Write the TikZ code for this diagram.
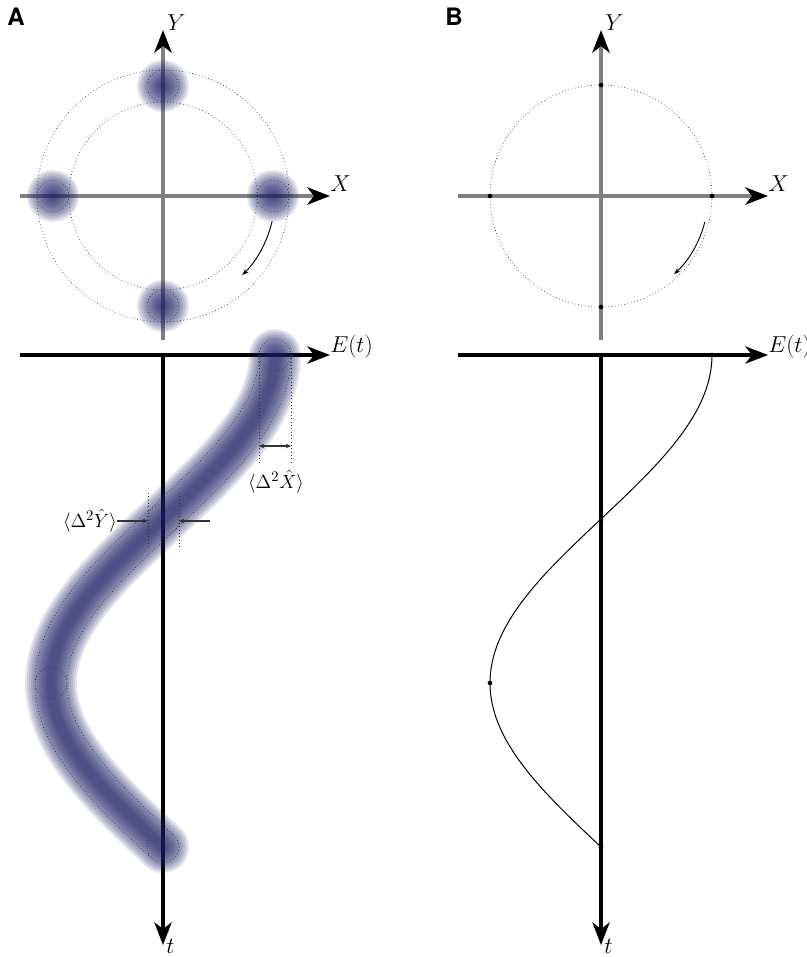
\documentclass[tikz,border=0pt]{standalone}
\usepackage{amsmath}
\usepackage{fontspec}
\newfontfamily\panelfont{TeX Gyre Heros}
\usetikzlibrary{arrows.meta}
\definecolor{blobblue}{RGB}{30,34,102}
\definecolor{axisgray}{RGB}{128,128,128}
\tikzset{
  grayaxis/.style={draw=axisgray, line width=3pt, -{Stealth[length=17pt,width=13pt,inset=5pt,black]}},
  blackaxis/.style={line width=2.3pt, -{Stealth[length=17pt,width=13pt,inset=5pt]}},
  ring/.style={dotted, line width=0.5pt, black!80},
  axlabel/.style={font=\fontsize{17}{20}\selectfont, inner sep=0pt, anchor=base west},
  msrlabel/.style={font=\fontsize{15}{18}\selectfont, inner sep=0pt},
  panel/.style={font=\panelfont\bfseries\fontsize{18}{21}\selectfont, inner sep=0pt},
  turn/.style={line width=0.7pt, -{Stealth[length=5pt,width=3.5pt]}},
  msr/.style={line width=0.8pt, black!80},
  dot/.style={circle, fill=black, inner sep=0pt, minimum size=3.5pt}
}
% soft gaussian-like spot
\newcommand{\fuzz}[1]{\foreach \r in {26,24,...,4} \fill[blobblue, opacity=0.12] (#1) circle[radius=\r];}
\begin{document}
\begin{tikzpicture}[x=0.75pt,y=-0.75pt]
\useasboundingbox (0,0) rectangle (807,957);
\node[panel] (pA) at (16,17) {A};
\node[panel] (pB) at (454,17) {B};

% axes, the same in both panels
\foreach \p/\dx in {A/0,B/438}{
\begin{scope}[xshift=\dx*0.75pt]
\coordinate (\p o) at (163,196);
\coordinate (\p xl) at (20,196); \coordinate (\p xr) at (330,196);
\coordinate (\p yb) at (163,340); \coordinate (\p yt) at (163,30);
\coordinate (\p el) at (20,355); \coordinate (\p er) at (330,355);
\coordinate (\p tt) at (163,355); \coordinate (\p tb) at (163,945);
\draw[grayaxis] (\p xl) -- (\p xr);
\draw[grayaxis] (\p yb) -- (\p yt);
\draw[blackaxis] (\p el) -- (\p er);
\draw[blackaxis] (\p tt) -- (\p tb);
\node[axlabel] (\p X) at (330,191) {$X$};
\node[axlabel] (\p Y) at (167,30) {$Y$};
\node[axlabel] (\p E) at (330,352) {$E(t)$};
\node[axlabel] (\p t) at (166,953) {$t$};
\end{scope}
}

% A: phase space
\draw[ring] (Ao) circle[radius=126];
\draw[ring] (Ao) circle[radius=94];
\foreach \n/\x/\y in {top/163/86,lft/53/196,rgt/273/196,bot/163/306}{
  \coordinate (s\n) at (\x,\y);
  \fuzz{s\n}
  \draw[ring] (s\n) circle[radius=16];
}
\draw[turn] ([shift={(13:112)}]Ao) arc[start angle=13, end angle=45, radius=112];

% A: field in time
\foreach \w in {52,48,...,8}
  \draw[blobblue, opacity=0.12, line width=\w*0.75pt, line cap=round]
    plot[domain=0:270, samples=91, variable=\a] ({163+112*cos(\a)},{355+1.8222*\a});
\draw[ring] plot[domain=0:270, samples=91, variable=\a]
  ({163+112*cos(\a)+16.704/sqrt(1.0899+1.2544*sin(\a)^2)},{355+1.8222*\a+17.92*sin(\a)/sqrt(1.0899+1.2544*sin(\a)^2)});
\draw[ring] plot[domain=0:270, samples=91, variable=\a]
  ({163+112*cos(\a)-16.704/sqrt(1.0899+1.2544*sin(\a)^2)},{355+1.8222*\a-17.92*sin(\a)/sqrt(1.0899+1.2544*sin(\a)^2)});
\foreach \n/\x/\y in {0/275/355,1/163/520,2/51/683,3/163/847}{
  \coordinate (c\n) at (\x,\y);
  \draw[ring] (c\n) circle[radius=16];
}
% widths
\coordinate (dxa) at (259,355); \coordinate (dxb) at (291,355);
\coordinate (dxc) at (259,465); \coordinate (dxd) at (291,465);
\draw[ring] (dxa) -- (dxc);
\draw[ring] (dxb) -- (dxd);
\draw[msr, {Stealth[length=4pt,width=3.5pt]}-{Stealth[length=4pt,width=3.5pt]}] (259,446) -- (291,446);
\node[msrlabel] (lX) at (276,482) {$\langle\Delta^2\hat{X}\rangle$};
\coordinate (dya) at (148,493); \coordinate (dyb) at (179,493);
\coordinate (dyc) at (148,548); \coordinate (dyd) at (179,548);
\draw[ring] (dya) -- (dyc);
\draw[ring] (dyb) -- (dyd);
\node[msrlabel, anchor=east] (lY) at (117,521) {$\langle\Delta^2\hat{Y}\rangle$};
\draw[msr, -{Stealth[length=4pt,width=3.5pt]}] (lY.east) -- (148,521);
\coordinate (dye) at (210,521);
\draw[msr, -{Stealth[length=4pt,width=3.5pt]}] (dye) -- (179,521);

% B: coherent point
\draw[ring] (Bo) circle[radius=111];
\foreach \n/\x/\y in {top/601/85,lft/490/196,rgt/712/196,bot/601/307}
  \node[dot] (b\n) at (\x,\y) {};
\draw[turn] ([shift={(14:107)}]Bo) arc[start angle=14, end angle=47, radius=107];
\draw[line width=0.75pt] plot[domain=0:270, samples=91, variable=\a] ({601+111*cos(\a)},{355+1.8222*\a});
\foreach \n/\x/\y in {0/712/355,1/601/520,2/490/683,3/601/847}
  \node[dot] (d\n) at (\x,\y) {};
\end{tikzpicture}
\end{document}
